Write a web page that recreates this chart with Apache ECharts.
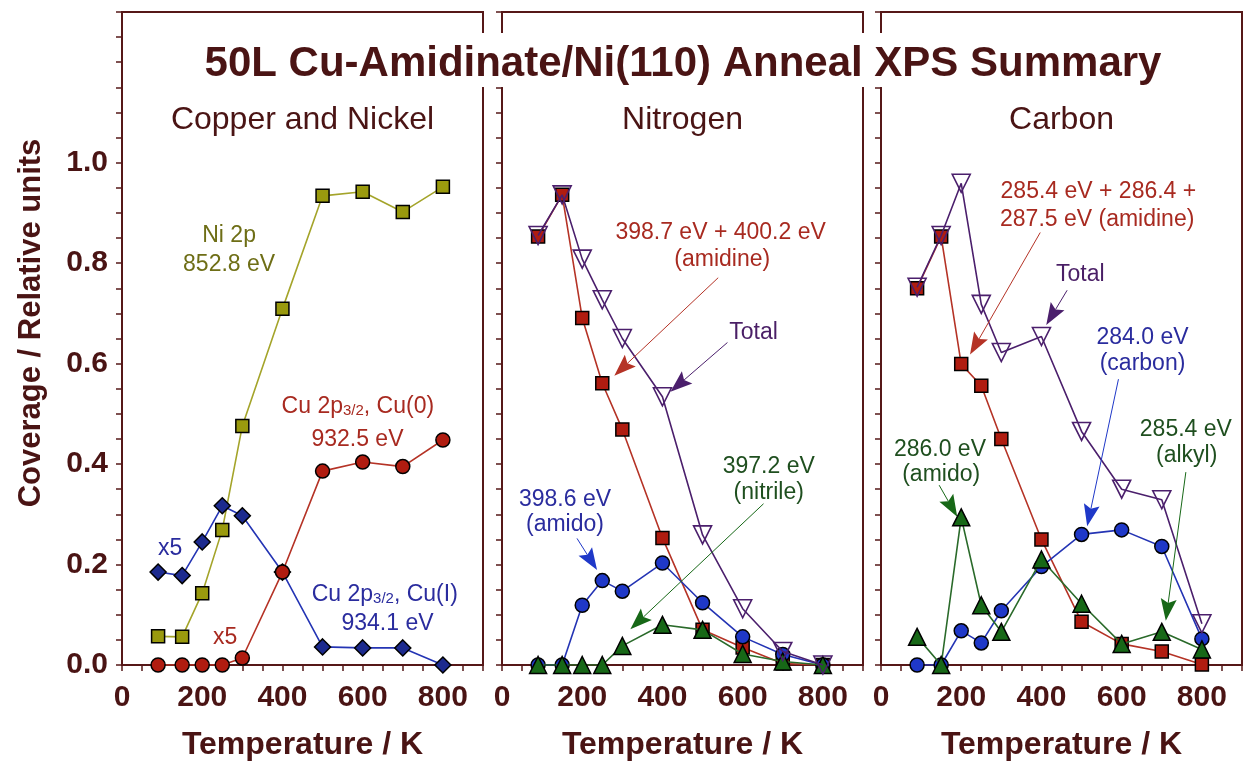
<!DOCTYPE html>
<html>
<head>
<meta charset="utf-8">
<script src="https://cdn.jsdelivr.net/npm/echarts@6/dist/echarts.min.js"></script>
<style>
  html, body { margin: 0; padding: 0; background: #fff; }
  #chart { width: 1244px; height: 765px; }
</style>
</head>
<body>
<div id="chart"></div>
<script>
// Anneal temperatures (K), shared by all three panels
const temperatures = [90, 150, 200, 250, 300, 400, 500, 600, 700, 800];
const xTickLabels = ['0', '200', '400', '600', '800'];
const yTickLabels = ['0.0', '0.2', '0.4', '0.6', '0.8', '1.0'];
const panelTitles = ['Copper and Nickel', 'Nitrogen', 'Carbon'];

// Copper and Nickel panel
const ni2p      = [0.057, 0.056, 0.143, 0.269, 0.476, 0.709, 0.934, 0.942, 0.902, 0.952];
const cu0       = [0.000, 0.000, 0.000, 0.000, 0.014, 0.185, 0.386, 0.404, 0.395, 0.448];
const cuI       = [0.185, 0.178, 0.245, 0.317, 0.297, 0.185, 0.036, 0.034, 0.034, 0.000];

// Nitrogen panel
const nTotal    = [0.855, 0.936, 0.808, 0.727, 0.650, 0.534, 0.259, 0.112, 0.027, 0.000];
const nAmidine  = [0.853, 0.936, 0.691, 0.561, 0.469, 0.253, 0.070, 0.035, 0.003, 0.000];
const nAmido    = [0.000, 0.000, 0.119, 0.168, 0.147, 0.203, 0.124, 0.056, 0.021, 0.000];
const nNitrile  = [0.000, 0.000, 0.000, 0.000, 0.038, 0.080, 0.070, 0.022, 0.007, 0.000];

// Carbon panel
const cTotal    = [0.752, 0.855, 0.959, 0.718, 0.622, 0.654, 0.465, 0.350, 0.329, 0.082];
const cAmidine  = [0.750, 0.853, 0.599, 0.556, 0.450, 0.250, 0.086, 0.042, 0.027, 0.001];
const cCarbon   = [0.000, 0.000, 0.068, 0.044, 0.108, 0.196, 0.260, 0.269, 0.236, 0.052];
const cAmidoAlkyl = [0.056, 0.000, 0.294, 0.119, 0.066, 0.210, 0.122, 0.042, 0.066, 0.031];

const FONT = '"Liberation Sans", Arial, Helvetica, sans-serif';
const BROWN = '#4a1414';
const AXIS = '#561818';
const C = {
  oliveLine: '#a4a42a', oliveFill: '#9a9a0e', oliveText: '#6e6e16',
  redLine: '#b53326', redFill: '#b01c10', redText: '#a82a20',
  blueLine: '#2434b4', blueFill: '#1f38c8', diamondFill: '#1c2a8e', blueText: '#2a2c9e',
  purple: '#4b1f6c', purpleText: '#4a1f66',
  greenLine: '#2a6a2a', greenFill: '#176817', greenText: '#1f4f1f'
};

const gridLefts = [122, 502, 881];
const grids = gridLefts.map(l => ({
  left: l, top: 12, width: 361, height: 653,
  outerBoundsMode: 'none', containLabel: false,
  show: true, borderColor: AXIS, borderWidth: 2, backgroundColor: 'transparent'
}));

const xAxes = gridLefts.map((l, i) => ({
  type: 'value', gridIndex: i, min: 0, max: 900, interval: 50,
  axisLine: { show: true, onZero: false, lineStyle: { color: AXIS, width: 2 } },
  axisTick: { show: true, inside: false, length: 6, lineStyle: { color: AXIS, width: 1.5 } },
  splitLine: { show: false },
  axisLabel: {
    margin: 18, fontSize: 30, fontWeight: 'bold', color: BROWN, fontFamily: FONT,
    formatter: v => xTickLabels.includes(String(v)) ? String(v) : ''
  },
  name: 'Temperature / K', nameLocation: 'middle', nameGap: 64,
  nameTextStyle: { fontSize: 32, fontWeight: 'bold', color: BROWN, fontFamily: FONT }
}));

const yAxes = gridLefts.map((l, i) => ({
  type: 'value', gridIndex: i, min: 0, max: 1.3, interval: 0.05,
  axisLine: { show: true, onZero: false, lineStyle: { color: AXIS, width: 2 } },
  axisTick: { show: true, inside: false, length: 6, lineStyle: { color: AXIS, width: 1.5 } },
  splitLine: { show: false },
  axisLabel: {
    show: i === 0, margin: 14, fontSize: 30, fontWeight: 'bold', color: BROWN, fontFamily: FONT,
    formatter: v => {
      const k = v * 5;
      if (Math.abs(k - Math.round(k)) > 1e-6) return '';
      const s = v.toFixed(1);
      return yTickLabels.includes(s) ? s : '';
    }
  }
}));

function series(panel, values, symbol, size, fill, line, opts) {
  opts = opts || {};
  return {
    type: 'line', xAxisIndex: panel, yAxisIndex: panel,
    data: temperatures.map((t, i) => [t, values[i]]),
    symbol: symbol, symbolSize: size, symbolRotate: opts.rotate || 0,
    showAllSymbol: true,
    lineStyle: { color: line, width: 1.6 },
    itemStyle: {
      color: fill, borderColor: opts.border || '#000', borderWidth: opts.borderWidth || 1.5
    },
    z: opts.z || 2, animation: false, silent: true,
    emphasis: { disabled: true }
  };
}

const hollowTotal = (panel, values) =>
  series(panel, values, 'triangle', 18, 'rgba(255,255,255,0)', C.purple,
    { rotate: 180, border: C.purple, borderWidth: 1.6, z: 6 });

const seriesList = [
  series(0, ni2p, 'rect', 13, C.oliveFill, C.oliveLine, { z: 2 }),
  series(0, cuI, 'diamond', 16, C.diamondFill, C.blueLine, { z: 3 }),
  series(0, cu0, 'circle', 14, C.redFill, C.redLine, { z: 4 }),

  series(1, nAmidine, 'rect', 13, C.redFill, C.redLine, { z: 2 }),
  series(1, nAmido, 'circle', 14, C.blueFill, C.blueLine, { z: 3 }),
  series(1, nNitrile, 'triangle', 17, C.greenFill, C.greenLine, { z: 4 }),
  hollowTotal(1, nTotal),

  series(2, cAmidine, 'rect', 13, C.redFill, C.redLine, { z: 2 }),
  series(2, cCarbon, 'circle', 14, C.blueFill, C.blueLine, { z: 3 }),
  series(2, cAmidoAlkyl, 'triangle', 17, C.greenFill, C.greenLine, { z: 4 }),
  hollowTotal(2, cTotal)
];

const titles = [{
  text: '50L Cu-Amidinate/Ni(110) Anneal XPS Summary',
  left: 673, top: 33, textAlign: 'center',
  backgroundColor: '#fff', padding: [9, 10, 1, 10],
  textStyle: { fontSize: 42, fontWeight: 'bold', color: BROWN, fontFamily: FONT, lineHeight: 44 }
}].concat(panelTitles.map((t, i) => ({
  text: t, left: gridLefts[i] + 180.5, top: 104, textAlign: 'center', padding: 0,
  textStyle: { fontSize: 32, fontWeight: 'normal', color: BROWN, fontFamily: FONT }
})));

const chart = echarts.init(document.getElementById('chart'), null, { renderer: 'canvas' });
chart.setOption({
  animation: false,
  backgroundColor: '#fff',
  title: titles,
  grid: grids,
  xAxis: xAxes,
  yAxis: yAxes,
  series: seriesList
});

// Annotation text, placed in each panel's data coordinates
const notes = [
  { p: 0, t: 267, v: 0.855, text: 'Ni 2p', color: C.oliveText },
  { p: 0, t: 267, v: 0.797, text: '852.8 eV', color: C.oliveText },
  { p: 0, t: 588, v: 0.514, text: 'Cu 2p{s|3/2}, Cu(0)', color: C.redText },
  { p: 0, t: 587, v: 0.448, text: '932.5 eV', color: C.redText },
  { p: 0, t: 120, v: 0.231, text: 'x5', color: C.blueText },
  { p: 0, t: 257, v: 0.054, text: 'x5', color: C.redText },
  { p: 0, t: 655, v: 0.140, text: 'Cu 2p{s|3/2}, Cu(I)', color: C.blueText },
  { p: 0, t: 662, v: 0.082, text: '934.1 eV', color: C.blueText },

  { p: 1, t: 545, v: 0.861, text: '398.7 eV + 400.2 eV', color: C.redText },
  { p: 1, t: 549, v: 0.806, text: '(amidine)', color: C.redText },
  { p: 1, t: 627, v: 0.661, text: 'Total', color: C.purpleText },
  { p: 1, t: 157, v: 0.329, text: '398.6 eV', color: C.blueText },
  { p: 1, t: 157, v: 0.280, text: '(amido)', color: C.blueText },
  { p: 1, t: 665, v: 0.394, text: '397.2 eV', color: C.greenText },
  { p: 1, t: 665, v: 0.343, text: '(nitrile)', color: C.greenText },

  { p: 2, t: 542, v: 0.943, text: '285.4 eV + 286.4 +', color: C.redText },
  { p: 2, t: 539, v: 0.887, text: '287.5 eV (amidine)', color: C.redText },
  { p: 2, t: 497, v: 0.778, text: 'Total', color: C.purpleText },
  { p: 2, t: 652, v: 0.652, text: '284.0 eV', color: C.blueText },
  { p: 2, t: 652, v: 0.600, text: '(carbon)', color: C.blueText },
  { p: 2, t: 147, v: 0.428, text: '286.0 eV', color: C.greenText },
  { p: 2, t: 150, v: 0.378, text: '(amido)', color: C.greenText },
  { p: 2, t: 760, v: 0.468, text: '285.4 eV', color: C.greenText },
  { p: 2, t: 762, v: 0.416, text: '(alkyl)', color: C.greenText }
];

// Pointer arrows: tail and tip in data coordinates
const pointers = [
  { p: 1, from: [539, 0.771], to: [280, 0.576], color: C.redLine },
  { p: 1, from: [562, 0.642], to: [420, 0.544], color: C.purple },
  { p: 1, from: [187, 0.252], to: [237, 0.189], color: C.blueFill },
  { p: 1, from: [652, 0.321], to: [320, 0.071], color: C.greenFill },

  { p: 2, from: [397, 0.861], to: [222, 0.618], color: C.redLine },
  { p: 2, from: [464, 0.746], to: [412, 0.677], color: C.purple },
  { p: 2, from: [592, 0.569], to: [514, 0.276], color: C.blueFill },
  { p: 2, from: [145, 0.358], to: [190, 0.295], color: C.greenFill },
  { p: 2, from: [760, 0.384], to: [710, 0.088], color: C.greenFill }
];

const toPx = (p, pt) => chart.convertToPixel({ gridIndex: p }, pt);
const graphics = [];

graphics.push({
  type: 'text', x: 31, y: 323, rotation: Math.PI / 2, z: 10,
  style: {
    text: 'Coverage / Relative units', font: 'bold 31px ' + FONT, fill: BROWN,
    align: 'center', verticalAlign: 'middle'
  }
});

notes.forEach(n => {
  const [x, y] = toPx(n.p, [n.t, n.v]);
  graphics.push({
    type: 'text', x: x, y: y, z: 10,
    style: {
      text: n.text, font: '23px ' + FONT, fill: n.color,
      align: 'center', verticalAlign: 'middle',
      rich: {
        s: { fontSize: 15, fontFamily: FONT, fill: n.color, verticalAlign: 'bottom', lineHeight: 14, padding: [14, 0, 0, 0] }
      }
    }
  });
});

pointers.forEach(a => {
  const [x1, y1] = toPx(a.p, a.from);
  const [x2, y2] = toPx(a.p, a.to);
  const dx = x2 - x1, dy = y2 - y1, len = Math.hypot(dx, dy);
  const ux = dx / len, uy = dy / len;
  const headLen = 22, headW = 16;
  const bx = x2 - ux * headLen, by = y2 - uy * headLen;
  const px = -uy * headW / 2, py = ux * headW / 2;
  graphics.push({
    type: 'line', z: 9,
    shape: { x1: x1, y1: y1, x2: bx + ux * 4, y2: by + uy * 4 },
    style: { stroke: a.color, lineWidth: 1 }
  });
  graphics.push({
    type: 'polygon', z: 9,
    shape: { points: [[x2, y2], [bx + px, by + py], [bx + ux * 4, by + uy * 4], [bx - px, by - py]] },
    style: { fill: a.color }
  });
});

chart.setOption({ graphic: graphics });
</script>
</body>
</html>
